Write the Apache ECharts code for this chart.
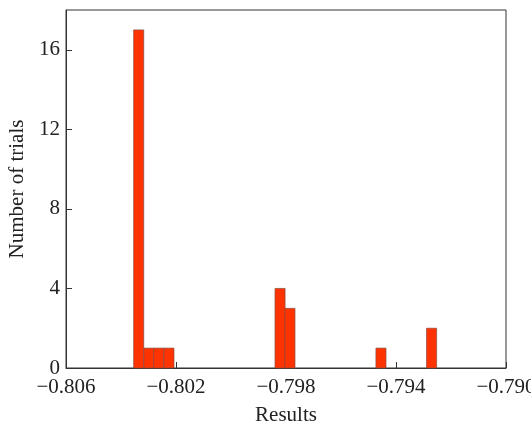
<!DOCTYPE html>
<html>
<head>
<meta charset="utf-8">
<script src="https://cdn.jsdelivr.net/npm/echarts@6/dist/echarts.min.js"></script>
<style>html,body{margin:0;padding:0;background:#fff;}#c{width:531px;height:425px;}</style>
</head>
<body>
<div id="c"></div>
<script>
// Histogram bins (lower edges), common bin width, and counts
const binStarts = [-0.80354, -0.80317, -0.80281, -0.80244, -0.79840, -0.79804, -0.79473, -0.79289];
const binWidth = 0.000367;
const counts = [17, 1, 1, 1, 4, 3, 1, 2];
const xTicks = [-0.806, -0.802, -0.798, -0.794, -0.790];
const yTicks = [0, 4, 8, 12, 16];

const data = binStarts.map((s, i) => [s, s + binWidth, counts[i]]);
const font = '"Liberation Serif", "DejaVu Serif", serif';
const chart = echarts.init(document.getElementById('c'), null, {renderer: 'canvas'});
chart.setOption({
  animation: false,
  backgroundColor: '#fff',
  grid: {left: 66, right: 25, top: 10, bottom: 57, outerBoundsMode: 'none', containLabel: false,
    show: true, borderColor: '#333', borderWidth: 1, backgroundColor: 'transparent'},
  xAxis: {
    type: 'value', min: -0.806, max: -0.790,
    name: 'Results', nameLocation: 'middle', nameGap: 37,
    nameTextStyle: {fontFamily: font, fontSize: 21, color: '#222'},
    axisLine: {show: true, lineStyle: {color: '#333', width: 1}},
    axisTick: {show: true, inside: true, length: 6, customValues: xTicks, lineStyle: {color: '#333'}},
    axisLabel: {customValues: xTicks, margin: 9, fontFamily: font, fontSize: 21, color: '#222',
      formatter: v => (v < 0 ? '\u2212' : '') + Math.abs(v).toFixed(3)},
    splitLine: {show: false}
  },
  yAxis: {
    type: 'value', min: 0, max: 18,
    name: 'Number of trials', nameLocation: 'middle', nameGap: 37,
    nameTextStyle: {fontFamily: font, fontSize: 21, color: '#222'},
    axisLine: {show: true, lineStyle: {color: '#333', width: 1}},
    axisTick: {show: true, inside: true, length: 6, customValues: yTicks, lineStyle: {color: '#333'}},
    axisLabel: {customValues: yTicks, margin: 6, fontFamily: font, fontSize: 21, color: '#222'},
    splitLine: {show: false}
  },
  series: [{
    type: 'custom',
    data: data,
    encode: {x: [0, 1], y: 2},
    renderItem: function (params, api) {
      const p0 = api.coord([api.value(0), api.value(2)]);
      const p1 = api.coord([api.value(1), 0]);
      return {
        type: 'rect',
        shape: {x: p0[0], y: p0[1], width: p1[0] - p0[0], height: p1[1] - p0[1]},
        style: {fill: '#FF3300', stroke: '#8a4a40', lineWidth: 0.7}
      };
    }
  }]
});
</script>
</body>
</html>
